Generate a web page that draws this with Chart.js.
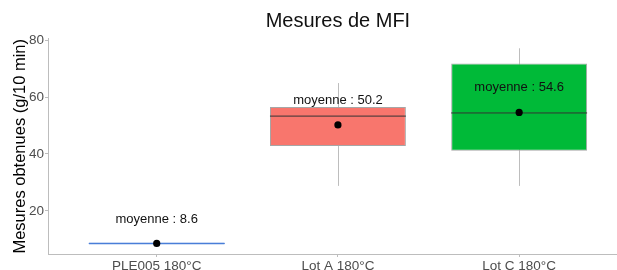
<!DOCTYPE html>
<html>
<head>
<meta charset="utf-8">
<script src="https://cdn.jsdelivr.net/npm/chart.js@4.4.1/dist/chart.umd.min.js"></script>
<style>
html,body{margin:0;padding:0;background:#fff;overflow:hidden;}
#wrap{width:617px;height:270px;position:relative;}
</style>
</head>
<body>
<div id="wrap"><canvas id="c"></canvas></div>
<script>
// ---- data ----
const categories = ['PLE005 180°C', 'Lot A 180°C', 'Lot C 180°C'];
const positions = [1, 2, 3];
const whiskerLow = [8.4, 28.8, 28.8];
const q1 = [8.25, 42.8, 41.1];
const medians = [8.6, 53.3, 54.4];
const q3 = [8.95, 56.5, 71.8];
const whiskerHigh = [8.9, 64.9, 77.1];
const means = [8.6, 50.2, 54.6];
const meanLabels = ['moyenne : 8.6', 'moyenne : 50.2', 'moyenne : 54.6'];
const yTicks = [20, 40, 60, 80];
const fills = ['#4a7fd8', '#F8766D', '#00BA38'];
const borders = ['#4a7fd8', '#a6a6a6', '#a6a6a6'];
const medianColors = ['#4a7fd8', '#333333', '#333333'];

const FONT = '"Liberation Sans", Arial, sans-serif';

const boxPlugin = {
  id: 'boxExtras',
  beforeDatasetsDraw(chart) {
    const {ctx} = chart, x = chart.scales.x, y = chart.scales.y;
    ctx.save();
    ctx.strokeStyle = '#bdbdbd';
    ctx.lineWidth = 1;
    positions.forEach((p, i) => {
      const px = Math.round(x.getPixelForValue(p)) + 0.5;
      ctx.beginPath();
      ctx.moveTo(px, y.getPixelForValue(whiskerHigh[i]));
      ctx.lineTo(px, y.getPixelForValue(whiskerLow[i]));
      ctx.stroke();
    });
    ctx.restore();
  },
  afterDatasetsDraw(chart) {
    const {ctx} = chart, x = chart.scales.x, y = chart.scales.y;
    const half = 0.375;
    ctx.save();
    positions.forEach((p, i) => {
      const py = y.getPixelForValue(medians[i]);
      ctx.strokeStyle = medianColors[i];
      ctx.lineWidth = 1;
      ctx.beginPath();
      ctx.moveTo(x.getPixelForValue(p - half), py);
      ctx.lineTo(x.getPixelForValue(p + half), py);
      ctx.stroke();
    });
    ctx.fillStyle = '#000';
    positions.forEach((p, i) => {
      ctx.beginPath();
      ctx.arc(x.getPixelForValue(p), y.getPixelForValue(means[i]), 3.6, 0, Math.PI * 2);
      ctx.fill();
    });
    ctx.font = '13px ' + FONT;
    ctx.fillStyle = '#111';
    ctx.textAlign = 'center';
    ctx.textBaseline = 'middle';
    positions.forEach((p, i) => {
      ctx.fillText(meanLabels[i], x.getPixelForValue(p), y.getPixelForValue(means[i]) - 24.5);
    });
    ctx.font = '20px ' + FONT;
    ctx.fillStyle = '#111';
    ctx.fillText('Mesures de MFI', x.getPixelForValue(2), 21);
    ctx.restore();
  }
};

new Chart(document.getElementById('c'), {
  type: 'bar',
  data: {
    datasets: [{
      data: positions.map((p, i) => ({x: p, y: [q1[i], q3[i]]})),
      backgroundColor: fills,
      borderColor: borders,
      borderWidth: 1,
      borderSkipped: false,
      categoryPercentage: 1,
      barPercentage: 0.75,
      grouped: false
    }]
  },
  options: {
    responsive: true,
    maintainAspectRatio: false,
    animation: false,
    events: [],
    layout: {padding: {top: 38.6, right: 0, bottom: 0, left: 0}},
    plugins: {legend: {display: false}, tooltip: {enabled: false}, title: {display: false}},
    scales: {
      x: {
        type: 'linear',
        offset: false,
        min: 0.4,
        max: 3.54,
        afterBuildTicks: s => { s.ticks = positions.map(v => ({value: v})); },
        afterFit: s => { s.height = 16; },
        ticks: {
          callback: (v) => categories[positions.indexOf(v)] || '',
          font: {family: FONT, size: 13.5},
          color: '#4d4d4d',
          padding: 1,
          maxRotation: 0,
          autoSkip: false
        },
        grid: {offset: false, drawOnChartArea: false, drawTicks: true, tickLength: 3, color: '#bdbdbd'},
        border: {display: true, color: '#bdbdbd', width: 1}
      },
      y: {
        min: 4.9,
        max: 80.5,
        afterBuildTicks: s => { s.ticks = yTicks.map(v => ({value: v})); },
        afterFit: s => { s.width = 48; },
        ticks: {
          font: {family: FONT, size: 13.5},
          color: '#4d4d4d',
          padding: 1
        },
        grid: {drawOnChartArea: false, drawTicks: true, tickLength: 3, color: '#bdbdbd'},
        border: {display: true, color: '#bdbdbd', width: 1},
        title: {
          display: true,
          text: 'Mesures obtenues (g/10 min)',
          font: {family: FONT, size: 16.5},
          color: '#000',
          padding: {top: 11, bottom: 0}
        }
      }
    }
  },
  plugins: [boxPlugin]
});
</script>
</body>
</html>
